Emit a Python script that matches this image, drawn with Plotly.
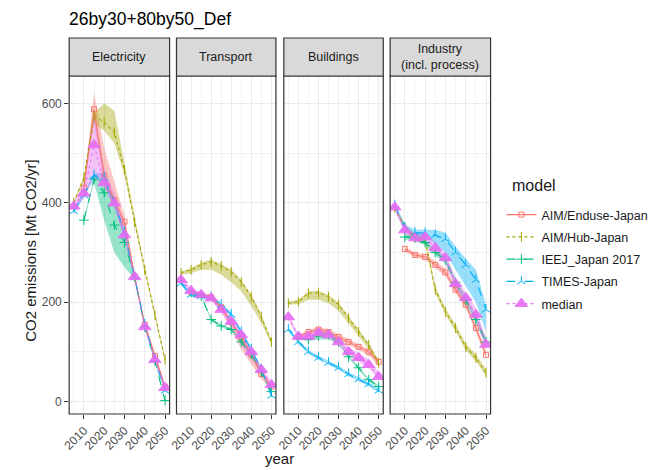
import plotly.graph_objects as go

YEARS = [2005, 2010, 2015, 2020, 2025, 2030, 2035, 2040, 2045, 2050]
SECTORS = ["Electricity", "Transport", "Buildings", "Industry<br>(incl. process)"]
MODELS = ["AIM/Enduse-Japan", "AIM/Hub-Japan", "IEEJ_Japan 2017", "TIMES-Japan", "median"]

N = None
# rows follow MODELS order
ELEC_MID = [
    [N, 430, 588, 455, 405, 362, 252, 155, 92, 30],
    [400, 450, 575, 562, 542, 466, 361, 265, 175, 84],
    [N, 365, 448, 420, 355, 320, 250, 150, 82, 2],
    [383, 415, 455, 450, 400, 340, 250, 155, 85, 22],
    [393, 419, 516, 440, 399, 335, 251, 150, 84, 28],
]
ELEC_LO = [
    [N, 425, 560, 435, 395, 350, 245, 150, 88, 25],
    [398, 445, 560, 545, 520, 455, 355, 258, 170, 80],
    [N, 360, 440, 365, 300, 270, 245, 148, 80, 0],
    [378, 410, 450, 440, 392, 332, 245, 150, 80, 18],
    [385, 410, 450, 430, 390, 325, 245, 145, 80, 22],
]
ELEC_HI = [
    [N, 435, 622, 510, 440, 375, 258, 160, 96, 35],
    [402, 455, 580, 600, 585, 480, 368, 270, 180, 88],
    [N, 370, 450, 445, 405, 345, 255, 152, 85, 5],
    [388, 420, 460, 460, 408, 348, 255, 160, 90, 28],
    [400, 440, 590, 470, 420, 360, 258, 158, 92, 35],
]
TRAN_MID = [
    [N, 220, 215, 210, 190, 160, 130, 95, 55, 30],
    [259, 265, 275, 281, 273, 261, 241, 211, 171, 120],
    [N, 220, 213, 165, 152, 145, 120, 95, 60, 20],
    [238, 215, 212, 210, 195, 175, 140, 105, 65, 12],
    [245, 223, 215, 208, 185, 161, 134, 100, 64, 34],
]
TRAN_LO = [
    [N, 215, 210, 205, 182, 145, 105, 75, 45, 25],
    [255, 258, 265, 265, 255, 240, 222, 192, 158, 115],
    [N, 217, 210, 162, 149, 142, 117, 92, 57, 17],
    [234, 211, 208, 206, 191, 171, 136, 101, 61, 8],
    [240, 218, 210, 203, 178, 150, 115, 85, 55, 28],
]
TRAN_HI = [
    [N, 225, 220, 215, 195, 165, 135, 100, 62, 35],
    [262, 268, 280, 286, 277, 265, 245, 215, 175, 124],
    [N, 223, 216, 168, 155, 148, 123, 98, 63, 23],
    [242, 219, 216, 214, 199, 179, 144, 109, 69, 16],
    [250, 228, 220, 213, 192, 168, 140, 105, 70, 40],
]
BLDG_MID = [
    [N, 130, 140, 145, 140, 130, 120, 110, 100, 80],
    [198, 201, 218, 219, 211, 195, 168, 141, 114, 78],
    [N, 128, 125, 132, 135, 120, 90, 68, 44, 30],
    [145, 120, 100, 88, 78, 68, 55, 45, 35, 22],
    [170, 131, 131, 138, 134, 120, 100, 88, 74, 50],
]
BLDG_LO = [
    [N, 126, 136, 140, 134, 124, 114, 104, 92, 72],
    [195, 196, 205, 205, 198, 182, 158, 132, 106, 72],
    [N, 125, 122, 125, 125, 116, 87, 65, 41, 27],
    [141, 116, 96, 84, 74, 64, 51, 41, 31, 18],
    [165, 126, 125, 130, 128, 112, 92, 80, 68, 44],
]
BLDG_HI = [
    [N, 134, 144, 150, 146, 136, 126, 116, 106, 86],
    [201, 205, 222, 223, 215, 199, 172, 145, 118, 82],
    [N, 131, 128, 140, 140, 124, 93, 71, 47, 33],
    [149, 124, 104, 92, 82, 72, 59, 49, 39, 26],
    [175, 136, 140, 148, 140, 128, 110, 98, 85, 60],
]
INDU_MID = [
    [N, 307, 295, 291, 275, 260, 225, 195, 148, 94],
    [390, 351, 330, 325, 225, 181, 148, 110, 88, 58],
    [N, 331, 330, 320, 300, 285, 240, 205, 165, 120],
    [395, 350, 340, 339, 335, 327, 300, 275, 245, 185],
    [391, 345, 329, 331, 309, 289, 237, 209, 175, 115],
]
INDU_LO = [
    [N, 302, 290, 285, 268, 252, 218, 188, 140, 86],
    [386, 345, 324, 318, 218, 174, 141, 103, 81, 51],
    [N, 326, 324, 314, 294, 278, 233, 198, 158, 112],
    [390, 345, 335, 330, 318, 300, 265, 232, 200, 140],
    [385, 338, 320, 320, 298, 278, 225, 198, 163, 105],
]
INDU_HI = [
    [N, 312, 300, 297, 282, 268, 232, 202, 156, 102],
    [394, 357, 336, 332, 232, 188, 155, 117, 95, 65],
    [N, 336, 336, 326, 306, 292, 247, 212, 172, 128],
    [400, 356, 346, 345, 345, 340, 312, 288, 265, 195],
    [397, 352, 338, 342, 320, 300, 248, 220, 188, 128],
]

COLORS = ["#F8766D", "#A3A500", "#00BF7D", "#00B0F6", "#E76BF3"]
FILLS = ["rgba(248,118,109,0.4)", "rgba(163,165,0,0.4)", "rgba(0,191,125,0.4)",
         "rgba(0,176,246,0.4)", "rgba(231,107,243,0.4)"]
DASHES = ["solid", "dot", "dash", "dash", "dot"]
SYMBOLS = ["square-open", "line-ns-open", "cross-thin-open", "y-up-open", "triangle-up"]
SIZES = [5, 7, 7, 7, 11]

PANEL_DATA = [(ELEC_MID, ELEC_LO, ELEC_HI), (TRAN_MID, TRAN_LO, TRAN_HI),
              (BLDG_MID, BLDG_LO, BLDG_HI), (INDU_MID, INDU_LO, INDU_HI)]

# page body has an 8px default margin; figure is sized to fill the rest
OFF = 8
W, H = 657 - OFF, 470 - OFF
PX = [(62, 164), (171, 272), (280, 381), (388, 490)]
PLOT_TOP, PLOT_BOT = 76, 414
STRIP_TOP = 38
FONT = "Liberation Sans, Arial, sans-serif"

def fx(p):
    return (p - OFF) / W

def fy(p):
    return 1 - (p - OFF) / H

fig = go.Figure()

for pi, (mid, lo, hi) in enumerate(PANEL_DATA):
    xa = "x" if pi == 0 else f"x{pi+1}"
    ya = "y" if pi == 0 else f"y{pi+1}"
    for mi in range(len(MODELS)):
        pts = [(yr, l, h) for yr, l, h in zip(YEARS, lo[mi], hi[mi]) if l is not None]
        xs = [p[0] for p in pts] + [p[0] for p in reversed(pts)]
        ys = [p[2] for p in pts] + [p[1] for p in reversed(pts)]
        fig.add_trace(go.Scatter(x=xs, y=ys, fill="toself", fillcolor=FILLS[mi],
                                 line=dict(width=0), mode="lines", hoverinfo="skip",
                                 showlegend=False, legendgroup=MODELS[mi],
                                 xaxis=xa, yaxis=ya))
    for mi in range(len(MODELS)):
        pts = [(yr, v) for yr, v in zip(YEARS, mid[mi]) if v is not None]
        fig.add_trace(go.Scatter(
            x=[p[0] for p in pts], y=[p[1] for p in pts], mode="lines+markers",
            name=MODELS[mi], legendgroup=MODELS[mi], showlegend=(pi == 0),
            line=dict(color=COLORS[mi], width=1.1, dash=DASHES[mi]),
            marker=dict(symbol=SYMBOLS[mi], size=SIZES[mi], color=COLORS[mi],
                        line=dict(width=1, color=COLORS[mi])),
            opacity=0.9 if mi == 4 else 1.0,
            xaxis=xa, yaxis=ya))

axis_font = dict(family=FONT, size=12, color="#4D4D4D")
layout = dict(
    width=W, height=H, margin=dict(l=0, r=0, t=0, b=0),
    paper_bgcolor="white", plot_bgcolor="white",
    font=dict(family=FONT, color="#1A1A1A"),
    showlegend=True,
    legend=dict(x=fx(501), y=fy(200), xanchor="left", yanchor="top",
                font=dict(size=12.5, color="#1A1A1A"), tracegroupgap=3,
                bgcolor="rgba(0,0,0,0)"),
)
for pi, (x0, x1) in enumerate(PX):
    xk = "xaxis" if pi == 0 else f"xaxis{pi+1}"
    yk = "yaxis" if pi == 0 else f"yaxis{pi+1}"
    layout[xk] = dict(
        domain=[fx(x0), fx(x1)], anchor="y" if pi == 0 else f"y{pi+1}",
        range=[2002.75, 2052.25], tickvals=[2010, 2020, 2030, 2040, 2050],
        tickangle=-45, tickfont=axis_font, ticks="outside", ticklen=4,
        tickcolor="#333333", showgrid=True, gridcolor="#EBEBEB", gridwidth=1,
        minor=dict(tickvals=[2005, 2015, 2025, 2035, 2045], showgrid=True,
                   gridcolor="#F3F3F3", gridwidth=0.6, ticks=""),
        zeroline=False, showline=False, fixedrange=True)
    layout[yk] = dict(
        domain=[fy(PLOT_BOT), fy(PLOT_TOP)], anchor="x" if pi == 0 else f"x{pi+1}",
        range=[-25, 655], tickvals=[0, 200, 400, 600],
        showticklabels=(pi == 0), tickfont=axis_font,
        ticks="outside" if pi == 0 else "", ticklen=4, tickcolor="#333333",
        showgrid=True, gridcolor="#EBEBEB", gridwidth=1,
        minor=dict(tickvals=[100, 300, 500], showgrid=True, gridcolor="#F3F3F3",
                   gridwidth=0.6, ticks=""),
        zeroline=False, showline=False, fixedrange=True)
fig.update_layout(**layout)

shapes = []
annotations = []
for pi, (x0, x1) in enumerate(PX):
    shapes.append(dict(type="rect", xref="paper", yref="paper",
                       x0=fx(x0), x1=fx(x1), y0=fy(PLOT_BOT), y1=fy(PLOT_TOP),
                       line=dict(color="#333333", width=1.2), fillcolor="rgba(0,0,0,0)"))
    shapes.append(dict(type="rect", xref="paper", yref="paper",
                       x0=fx(x0), x1=fx(x1), y0=fy(PLOT_TOP), y1=fy(STRIP_TOP),
                       line=dict(color="#333333", width=1.2), fillcolor="#D9D9D9"))
    annotations.append(dict(text=SECTORS[pi], xref="paper", yref="paper",
                            x=fx((x0 + x1) / 2), y=fy((STRIP_TOP + PLOT_TOP) / 2),
                            xanchor="center", yanchor="middle", showarrow=False,
                            font=dict(size=12.5, color="#1A1A1A")))
annotations.append(dict(text="26by30+80by50_Def", xref="paper", yref="paper",
                        x=fx(60), y=fy(19), xanchor="left", yanchor="middle",
                        showarrow=False, font=dict(size=17.5, color="#000000")))
annotations.append(dict(text="model", xref="paper", yref="paper",
                        x=fx(510), y=fy(186), xanchor="left", yanchor="middle",
                        showarrow=False, font=dict(size=16, color="#1A1A1A")))
annotations.append(dict(text="year", xref="paper", yref="paper",
                        x=fx(276), y=fy(458), xanchor="center", yanchor="middle",
                        showarrow=False, font=dict(size=15, color="#1A1A1A")))
annotations.append(dict(text="CO2 emissions [Mt CO2/yr]", xref="paper", yref="paper",
                        x=fx(22), y=fy(250), xanchor="center", yanchor="middle",
                        textangle=-90, showarrow=False,
                        font=dict(size=15, color="#1A1A1A")))
fig.update_layout(shapes=shapes, annotations=annotations)

fig.write_html("out.html")
